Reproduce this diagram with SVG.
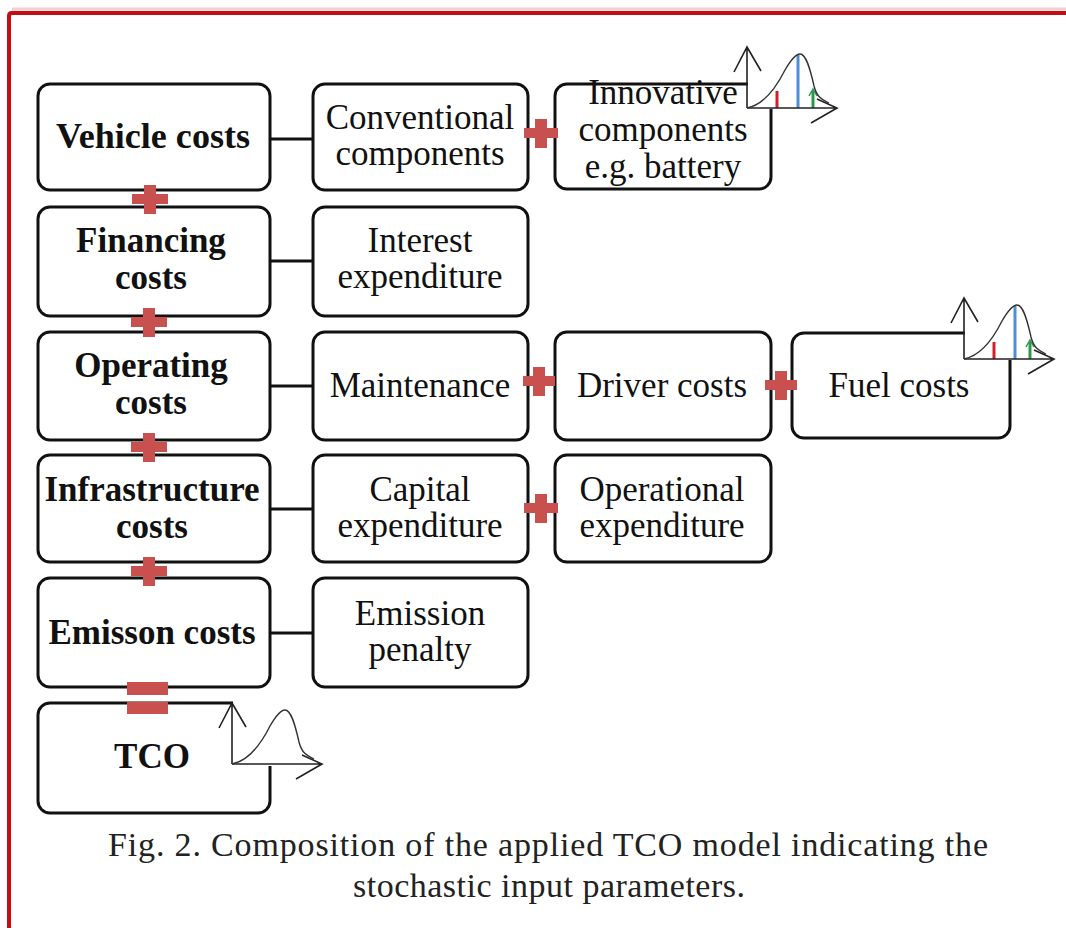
<svg xmlns="http://www.w3.org/2000/svg" width="1066" height="928" viewBox="0 0 1066 928">
<style>
.box{fill:#fff;stroke:#111;stroke-width:3}
.b{font-family:"Liberation Serif","DejaVu Serif",serif;font-weight:bold;font-size:35px;fill:#111;text-anchor:middle}
.r{font-family:"Liberation Serif","DejaVu Serif",serif;font-size:35px;fill:#111;text-anchor:middle}
.cap{font-family:"Liberation Serif","DejaVu Serif",serif;font-size:34px;fill:#222;text-anchor:middle}
.conn{stroke:#111;stroke-width:3;fill:none}
.plus{fill:#c8504e}
.ax{stroke:#222;stroke-width:1.6;fill:none}
.cv{stroke:#333;stroke-width:1.4;fill:none}
</style>
<defs>
<g id="chart">
<path class="ax" d="M0,0 V-61 M-13,-36 L0,-61 L14,-37 M0,0 H90 M70,-9 L90,0 L64,15"/>
<path class="cv" d="M0,0 C15,-3 28,-18 38,-38 C45,-50 49,-54 53,-54 C59,-54 63,-40 67,-22 C70,-10 76,-8 82,-5"/>
</g>
<g id="marks">
<path d="M30,0 V-17" stroke="#d0202a" stroke-width="3"/>
<path d="M51,0 V-53" stroke="#4a8fd8" stroke-width="3"/>
<path d="M66,0 V-17" stroke="#2a9a4a" stroke-width="3"/>
<path d="M62,-12 L66,-19 L70,-12" stroke="#2a9a4a" stroke-width="1.5" fill="none"/>
</g>
</defs>
<rect width="1066" height="928" fill="#fff"/>
<path d="M9,935 V16 Q9,13 12,13 H1070" fill="none" stroke="#c30d12" stroke-width="4"/>
<path d="M12,9 H1070" fill="none" stroke="#e8a0a0" stroke-width="3" opacity="0.5"/>

<g id="connectors">
<path class="conn" d="M270,139 H313 M270,261 H313 M270,386 H313 M270,509 H313 M270,633 H313"/>
</g>

<g id="vehicle"><rect class="box" x="38" y="84" width="232" height="106" rx="12"/><text class="b" x="153" y="148" textLength="194" lengthAdjust="spacingAndGlyphs">Vehicle costs</text></g>
<g id="financing"><rect class="box" x="38" y="207" width="232" height="109" rx="12"/><text class="b" x="151" y="252">Financing</text><text class="b" x="151" y="289">costs</text></g>
<g id="operating"><rect class="box" x="38" y="332" width="232" height="108" rx="12"/><text class="b" x="151" y="377">Operating</text><text class="b" x="151" y="414">costs</text></g>
<g id="infrastructure"><rect class="box" x="38" y="455" width="232" height="107" rx="12"/><text class="b" x="152" y="501">Infrastructure</text><text class="b" x="152" y="538">costs</text></g>
<g id="emission"><rect class="box" x="38" y="578" width="232" height="109" rx="12"/><text class="b" x="152" y="644">Emisson costs</text></g>
<g id="tco"><rect class="box" x="38" y="703" width="232" height="110" rx="12"/>
<rect x="233" y="698" width="42" height="68" fill="#fff"/>
<use href="#chart" x="232" y="764"/>
<text class="b" x="152" y="768">TCO</text></g>

<g id="conventional"><rect class="box" x="313" y="84" width="215" height="106" rx="12"/><text class="r" x="420" y="129">Conventional</text><text class="r" x="420" y="165">components</text></g>
<g id="interest"><rect class="box" x="313" y="207" width="215" height="109" rx="12"/><text class="r" x="420" y="252">Interest</text><text class="r" x="420" y="288">expenditure</text></g>
<g id="maintenance"><rect class="box" x="313" y="332" width="215" height="108" rx="12"/><text class="r" x="420" y="397">Maintenance</text></g>
<g id="capital"><rect class="box" x="313" y="455" width="215" height="107" rx="12"/><text class="r" x="420" y="501">Capital</text><text class="r" x="420" y="537">expenditure</text></g>
<g id="penalty"><rect class="box" x="313" y="578" width="215" height="109" rx="12"/><text class="r" x="420" y="625">Emission</text><text class="r" x="420" y="661">penalty</text></g>

<g id="innovative"><rect class="box" x="555" y="84" width="216" height="105" rx="12"/>
<rect x="748" y="78" width="28" height="31" fill="#fff"/>
<text class="r" x="663" y="104">Innovative</text><text class="r" x="663" y="141">components</text><text class="r" x="663" y="178">e.g. battery</text>
<use href="#marks" x="747" y="108"/><use href="#chart" x="747" y="108"/></g>
<g id="driver"><rect class="box" x="555" y="332" width="216" height="108" rx="12"/><text class="r" x="662" y="397">Driver costs</text></g>
<g id="operational"><rect class="box" x="555" y="455" width="216" height="107" rx="12"/><text class="r" x="662" y="501">Operational</text><text class="r" x="662" y="537">expenditure</text></g>
<g id="fuel"><rect class="box" x="792" y="333" width="218" height="105" rx="12"/>
<rect x="965" y="328" width="50" height="32" fill="#fff"/>
<text class="r" x="899" y="397">Fuel costs</text>
<use href="#marks" x="964" y="359"/><use href="#chart" x="964" y="359"/></g>

<g id="operators">
<path class="plus" d="M144,185 h12 v9 h12 v10 h-12 v10 h-12 v-10 h-12 v-10 h12z"/>
<path class="plus" d="M143,308 h12 v9 h12 v10 h-12 v10 h-12 v-10 h-12 v-10 h12z"/>
<path class="plus" d="M143,433 h12 v9 h12 v10 h-12 v10 h-12 v-10 h-12 v-10 h12z"/>
<path class="plus" d="M143,557 h12 v9 h12 v10 h-12 v10 h-12 v-10 h-12 v-10 h12z"/>
<path class="plus" d="M535,119 h12 v9 h11 v10 h-11 v10 h-12 v-10 h-11 v-10 h11z"/>
<path class="plus" d="M533,367 h12 v9 h10 v10 h-10 v10 h-12 v-10 h-10 v-10 h10z"/>
<path class="plus" d="M775,371 h12 v9 h10 v10 h-10 v10 h-12 v-10 h-10 v-10 h10z"/>
<path class="plus" d="M535,494 h12 v9 h11 v10 h-11 v10 h-12 v-10 h-11 v-10 h11z"/>
<rect class="plus" x="127" y="682" width="41" height="13"/>
<rect class="plus" x="127" y="702" width="41" height="12"/>
</g>

<g id="caption">
<text class="cap" x="548" y="856" textLength="880" lengthAdjust="spacing">Fig. 2. Composition of the applied TCO model indicating the</text>
<text class="cap" x="549" y="897" textLength="392" lengthAdjust="spacing">stochastic input parameters.</text>
</g>
</svg>
